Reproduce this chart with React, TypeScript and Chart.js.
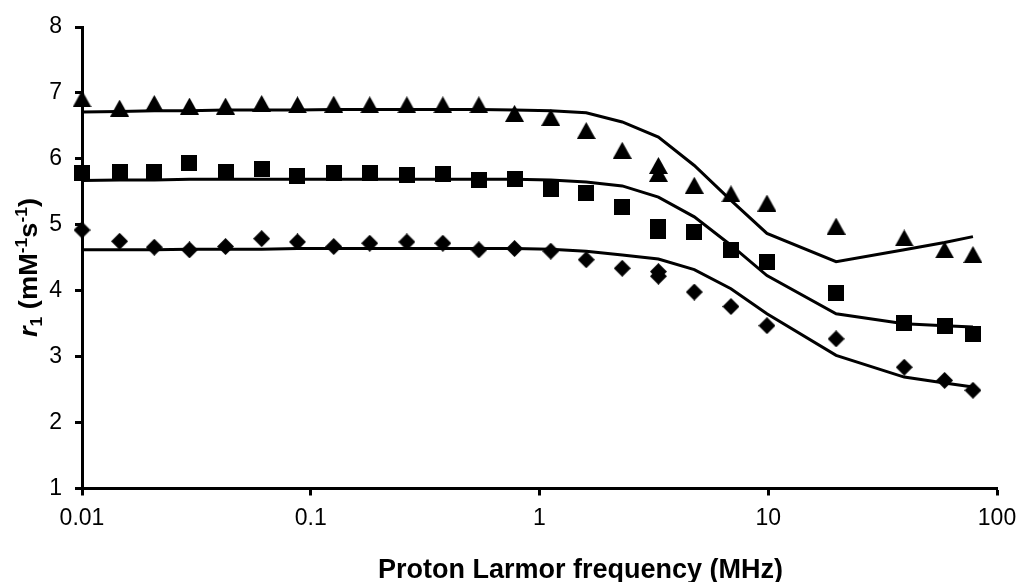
import React, { useEffect, useRef } from 'react';
import { Chart, registerables } from 'chart.js';

Chart.register(...registerables);

// Proton Larmor frequency (MHz) of each measured point
const frequencyMHz = [
  0.01, 0.0146, 0.0207, 0.0295, 0.0424, 0.061, 0.0875, 0.126, 0.181, 0.263, 0.378, 0.543,
  0.778, 1.12, 1.6, 2.3, 3.31, 4.75, 6.87, 9.87, 19.8, 39.3, 59, 78.5,
];
// r1 (mM^-1 s^-1) measured values
const triangleR1 = [
  6.91, 6.77, 6.84, 6.8, 6.8, 6.84, 6.82, 6.83, 6.82, 6.82, 6.82, 6.82,
  6.69, 6.63, 6.43, 6.13, 5.9, 5.6, 5.47, 5.33, 4.98, 4.8, 4.62, 4.55,
];
const squareR1 = [
  5.78, 5.8, 5.8, 5.93, 5.8, 5.85, 5.74, 5.79, 5.79, 5.75, 5.77, 5.68,
  5.7, 5.55, 5.48, 5.27, 4.97, 4.89, 4.61, 4.43, 3.96, 3.51, 3.46, 3.35,
];
const diamondR1 = [
  4.92, 4.75, 4.66, 4.62, 4.67, 4.79, 4.74, 4.67, 4.72, 4.74, 4.72, 4.62,
  4.64, 4.6, 4.47, 4.34, 4.29, 3.98, 3.76, 3.47, 3.27, 2.84, 2.64, 2.49,
];
// repeated measurement at ~3.3 MHz
const repeatFrequencyMHz = [3.31];
const triangleRepeat = [5.78];
const squareRepeat = [4.91];
const diamondRepeat = [4.22];
// fitted curves
const triangleFit = [
  6.71, 6.72, 6.73, 6.73, 6.74, 6.74, 6.74, 6.75, 6.75, 6.75, 6.75, 6.75,
  6.74, 6.73, 6.7, 6.56, 6.33, 5.9, 5.37, 4.87, 4.44, 4.62, 4.73, 4.82,
];
const squareFit = [
  5.67, 5.68, 5.68, 5.69, 5.69, 5.69, 5.69, 5.69, 5.69, 5.69, 5.69, 5.69,
  5.69, 5.68, 5.65, 5.59, 5.42, 5.12, 4.69, 4.23, 3.65, 3.5, 3.47, 3.45,
];
const diamondFit = [
  4.62, 4.62, 4.62, 4.63, 4.63, 4.63, 4.64, 4.64, 4.64, 4.64, 4.64, 4.64,
  4.64, 4.63, 4.6, 4.54, 4.48, 4.32, 4.03, 3.65, 3.02, 2.69, 2.6, 2.54,
];

const xTickValues = [0.01, 0.1, 1, 10, 100];
const yMin = 1;
const yMax = 8;
const xTitle = 'Proton Larmor frequency (MHz)';

const FAMILY = '"Liberation Sans", Arial, sans-serif';

function makeMarker(kind: 'triangle' | 'square' | 'diamond'): HTMLCanvasElement {
  const c = document.createElement('canvas');
  if (kind === 'triangle') {
    c.width = 19;
    c.height = 17;
  } else if (kind === 'square') {
    c.width = 16;
    c.height = 16;
  } else {
    c.width = 17;
    c.height = 17;
  }
  const ctx = c.getContext('2d')!;
  ctx.fillStyle = '#000';
  ctx.beginPath();
  if (kind === 'triangle') {
    ctx.moveTo(9.5, 0);
    ctx.lineTo(19, 17);
    ctx.lineTo(0, 17);
  } else if (kind === 'square') {
    ctx.rect(0, 0, 16, 16);
  } else {
    ctx.moveTo(8.5, 0);
    ctx.lineTo(17, 8.5);
    ctx.lineTo(8.5, 17);
    ctx.lineTo(0, 8.5);
  }
  ctx.closePath();
  ctx.fill();
  return c;
}

const pts = (xs: number[], ys: number[]) => xs.map((x, i) => ({ x, y: ys[i] }));

const titlesPlugin = {
  id: 'axisTitles',
  afterDraw(chart: any) {
    const ctx: CanvasRenderingContext2D = chart.ctx;
    ctx.save();
    ctx.fillStyle = '#000';
    // x title
    ctx.font = `bold 27px ${FAMILY}`;
    ctx.textAlign = 'center';
    ctx.textBaseline = 'alphabetic';
    ctx.fillText(xTitle, 580.5, 578);

    // y title with italic r, subscript and superscripts
    const big = 25;
    const small = 16;
    const segs = [
      { t: 'r', font: `italic bold ${big}px ${FAMILY}`, dy: 0 },
      { t: '1', font: `bold ${small}px ${FAMILY}`, dy: 5 },
      { t: ' (mM', font: `bold ${big}px ${FAMILY}`, dy: 0 },
      { t: '-1', font: `bold ${small}px ${FAMILY}`, dy: -10 },
      { t: 's', font: `bold ${big}px ${FAMILY}`, dy: 0 },
      { t: '-1', font: `bold ${small}px ${FAMILY}`, dy: -10 },
      { t: ')', font: `bold ${big}px ${FAMILY}`, dy: 0 },
    ];
    let total = 0;
    const widths = segs.map((s) => {
      ctx.font = s.font;
      const w = ctx.measureText(s.t).width;
      total += w;
      return w;
    });
    const target = 139;
    ctx.translate(37, 267.5);
    ctx.rotate(-Math.PI / 2);
    ctx.scale(target / total, 1);
    ctx.textAlign = 'left';
    let x = -total / 2;
    segs.forEach((s, i) => {
      ctx.font = s.font;
      ctx.fillText(s.t, x, s.dy);
      x += widths[i];
    });
    ctx.restore();
  },
};

export default function App() {
  const ref = useRef<HTMLCanvasElement | null>(null);

  useEffect(() => {
    if (!ref.current) return;
    const tri = makeMarker('triangle');
    const sq = makeMarker('square');
    const dia = makeMarker('diamond');

    const markerDs = (data: any[], style: HTMLCanvasElement) => ({
      data,
      showLine: false,
      pointStyle: style,
      pointRadius: 9,
      pointHoverRadius: 9,
      backgroundColor: '#000',
      borderColor: '#000',
      clip: false as any,
    });
    const lineDs = (data: any[]) => ({
      data,
      showLine: true,
      pointRadius: 0,
      pointHoverRadius: 0,
      borderColor: '#000',
      borderWidth: 3,
      tension: 0,
      fill: false,
      clip: false as any,
    });

    const chart = new Chart(ref.current, {
      type: 'scatter',
      data: {
        datasets: [
          markerDs(pts(frequencyMHz, triangleR1), tri),
          markerDs(pts(repeatFrequencyMHz, triangleRepeat), tri),
          markerDs(pts(frequencyMHz, squareR1), sq),
          markerDs(pts(repeatFrequencyMHz, squareRepeat), sq),
          markerDs(pts(frequencyMHz, diamondR1), dia),
          markerDs(pts(repeatFrequencyMHz, diamondRepeat), dia),
          lineDs(pts(frequencyMHz, triangleFit)),
          lineDs(pts(frequencyMHz, squareFit)),
          lineDs(pts(frequencyMHz, diamondFit)),
        ] as any,
      },
      options: {
        animation: false,
        responsive: false,
        devicePixelRatio: 1,
        layout: { padding: { top: 27, right: 23, left: 0, bottom: 0 } },
        plugins: { legend: { display: false }, tooltip: { enabled: false }, title: { display: false } },
        events: [],
        scales: {
          x: {
            type: 'logarithmic',
            position: 'bottom',
            min: 0.01,
            max: 100,
            afterBuildTicks: (s: any) => {
              s.ticks = xTickValues.map((v) => ({ value: v }));
            },
            afterFit: (s: any) => {
              s.height = 93.5;
              s.paddingLeft = 0;
              s.paddingRight = 0;
            },
            border: { display: true, color: '#000', width: 3 },
            grid: {
              display: true,
              drawOnChartArea: false,
              drawTicks: true,
              tickLength: 7,
              tickWidth: 3,
              tickColor: '#000',
            },
            ticks: {
              autoSkip: false,
              maxRotation: 0,
              minRotation: 0,
              padding: 9,
              color: '#000',
              font: { family: FAMILY, size: 23 },
              callback: (v: any) => String(v),
            },
          },
          y: {
            type: 'linear',
            min: yMin,
            max: yMax,
            afterFit: (s: any) => {
              s.width = 82;
              s.paddingTop = 0;
              s.paddingBottom = 0;
            },
            border: { display: true, color: '#000', width: 3 },
            grid: {
              display: true,
              drawOnChartArea: false,
              drawTicks: true,
              tickLength: 7,
              tickWidth: 3,
              tickColor: '#000',
            },
            ticks: {
              stepSize: 1,
              padding: 13,
              color: '#000',
              font: { family: FAMILY, size: 23 },
            },
          },
        },
      } as any,
      plugins: [titlesPlugin],
    });
    return () => chart.destroy();
  }, []);

  return (
    <div style={{ position: 'absolute', left: 0, top: 0, width: 1020, height: 582, background: '#fff' }}>
      <canvas ref={ref} width={1020} height={582} style={{ display: 'block' }} />
    </div>
  );
}
